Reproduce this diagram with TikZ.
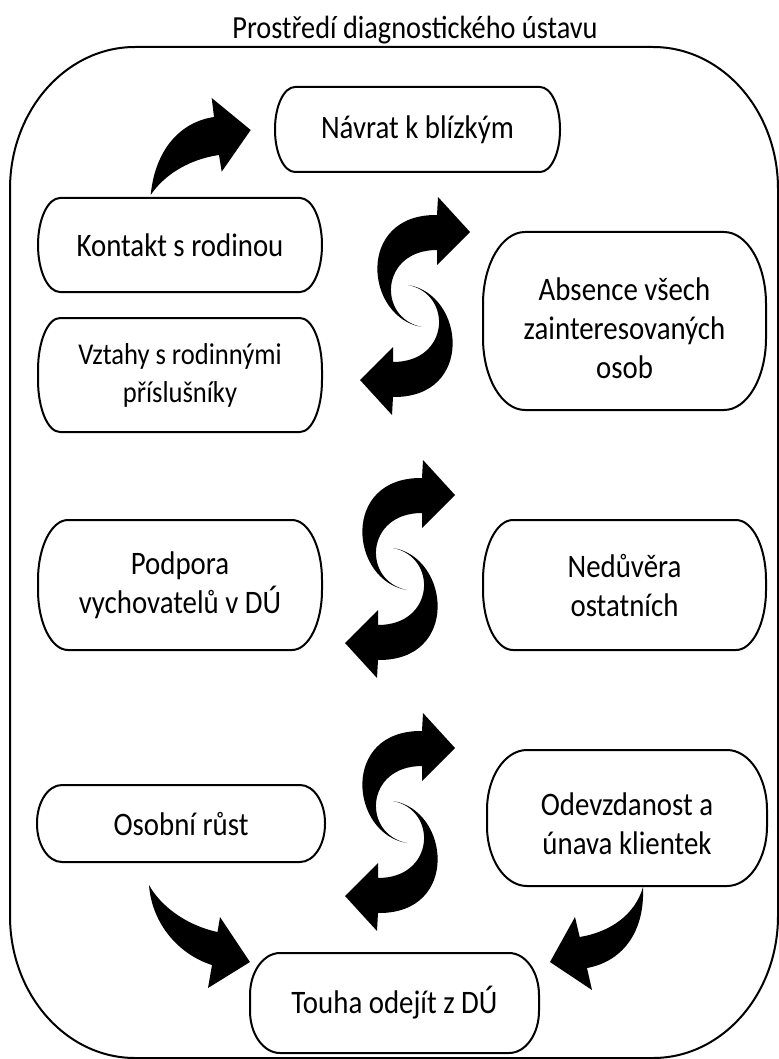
\documentclass[tikz,border=0pt]{standalone}
\usepackage{fontspec}
\setmainfont{Carlito}[FakeStretch=0.88]
\usetikzlibrary{calc}
\tikzset{
  txt/.style={align=center, inner sep=0pt, font=\fontsize{16.4}{19.5}\selectfont},
  smalltxt/.style={align=center, inner sep=0pt, font=\fontsize{15.1}{19}\selectfont},
  boxline/.style={draw=black, line width=1pt},
  halfs/.pic={\fill[black] (7,-21) .. controls (-50,-12) and (-60,92) .. (22,91) -- (23,109) -- (55,74) -- (22,41) -- (22,56) .. controls (-35,56) and (-38,-12) .. (7,-21) -- cycle;},
}
\newcommand\rbox[7]{%
  \node[minimum width=#4*0.5pt, minimum height=#5*0.5pt, inner sep=0pt, outer sep=0pt] (#1) at (#2,-#3) {};
  \draw[boxline] ($(#1.north west)+(#6,0)$) -- ($(#1.north east)+(-#6,0)$)
    arc[start angle=90,end angle=0,x radius=#6,y radius=#7]
    -- ($(#1.south east)+(0,#7)$) arc[start angle=0,end angle=-90,x radius=#6,y radius=#7]
    -- ($(#1.south west)+(#6,0)$) arc[start angle=270,end angle=180,x radius=#6,y radius=#7]
    -- ($(#1.north west)+(0,-#7)$) arc[start angle=180,end angle=90,x radius=#6,y radius=#7] -- cycle;}
\begin{document}
\begin{tikzpicture}[x=0.5pt,y=0.5pt]
\useasboundingbox (0,0) rectangle (779,-1059);
% outer frame and title
\rbox{frame}{394}{552.5}{768}{1011}{125}{142}
\node[inner sep=0pt, font=\fontsize{16.1}{18}\selectfont] (title) at (415,-30) {Prostředí diagnostického ústavu};
% boxes
\rbox{navrat}{417.5}{129.5}{285}{85}{20}{42}
\node[txt] (navratT) at (navrat) {Návrat k blízkým};
\rbox{kontakt}{180}{245}{284}{94}{22}{47}
\node[txt] (kontaktT) at (kontakt) {Kontakt s rodinou};
\rbox{absence}{624.5}{321}{283}{178}{42}{72}
\node[txt] (absenceT) at ([yshift=-3.5pt]absence) {Absence všech\\zainteresovaných\\osob};
\rbox{vztahy}{180}{375}{284}{114}{22}{52}
\node[smalltxt] (vztahyT) at (vztahy) {Vztahy s rodinnými\\příslušníky};
\rbox{podpora}{180}{585}{284}{130}{30}{60}
\node[txt] (podporaT) at (podpora) {Podpora\\vychovatelů v DÚ};
\rbox{neduvera}{624.5}{585}{283}{130}{30}{60}
\node[txt] (neduveraT) at (neduvera) {Nedůvěra\\ostatních};
\rbox{osobni}{181}{823.5}{288}{77}{25}{38}
\node[txt] (osobniT) at (osobni) {Osobní růst};
\rbox{odevz}{627}{818}{280}{136}{40}{60}
\node[txt] (odevzT) at ([yshift=-3pt]odevz) {Odevzdanost a\\únava klientek};
\rbox{touha}{394.5}{1003}{289}{100}{30}{42}
\node[txt] (touhaT) at (touha) {Touha odejít z DÚ};
% block arrows
\fill[black] (150.7,-195) .. controls (155,-150) and (180,-122) .. (214,-117) -- (211.7,-98) -- (250.7,-130) -- (221.7,-171.7) -- (219,-155) .. controls (185,-160) and (162,-178) .. (150.7,-195) -- cycle;
\fill[black] (149,-885) .. controls (152,-925) and (180,-955) .. (212,-965) -- (208,-988) -- (250,-962) -- (220,-917) -- (217.5,-932) .. controls (185,-925) and (160,-905) .. (149,-885) -- cycle;
\fill[black] (643,-887) .. controls (645,-935) and (620,-962) .. (587,-968) -- (592,-990) -- (550,-962) -- (575,-917) -- (579.7,-937) .. controls (610,-932) and (635,-915) .. (643,-887) -- cycle;
% S-shaped arrow pairs
\pic at (415,-306) {halfs};
\pic[rotate=180] at (415,-306) {halfs};
\pic at (400,-569) {halfs};
\pic[rotate=180] at (400,-569) {halfs};
\pic at (400,-822) {halfs};
\pic[rotate=180] at (400,-822) {halfs};
\end{tikzpicture}
\end{document}
